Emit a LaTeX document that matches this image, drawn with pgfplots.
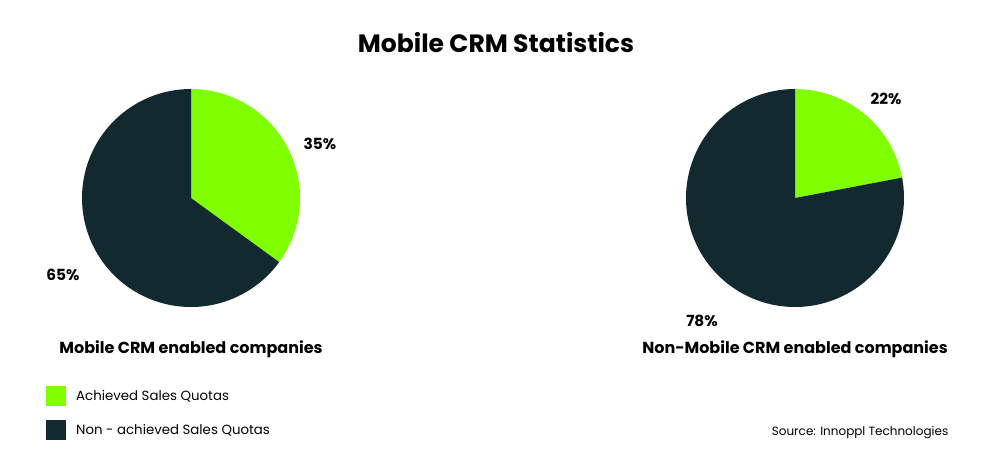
\documentclass[border=0pt]{standalone}
\usepackage{pgfplots}
\pgfplotsset{compat=1.18}
\usepackage{pgfplotstable}
\usepackage{fontspec}
\setmainfont{Poppins}
\definecolor{achgreen}{HTML}{7FFF00}
\definecolor{darkteal}{HTML}{12292F}
% pie data: share of achieved quota (percent)
\def\leftA{35}  \def\leftB{65}
\def\rightA{22} \def\rightB{78}
\begin{document}
\begin{tikzpicture}
\useasboundingbox (0,0) rectangle (744.75pt,343.5pt);
\begin{axis}[
  at={(0,0)}, anchor=south west,
  scale only axis, width=744.75pt, height=343.5pt,
  xmin=0, xmax=993, ymin=0, ymax=458, y dir=reverse,
  hide axis, clip=false,
]
% left pie, centre (191,198) r 109
\pgfmathsetmacro{\la}{90-3.6*\leftA}
\addplot[draw=none, fill=achgreen, domain=\la:90, samples=120]
  ({191+109*cos(x)},{198-109*sin(x)}) -- (axis cs:191,198) -- cycle;
\addplot[draw=none, fill=darkteal, domain={\la-3.6*\leftB}:\la, samples=200]
  ({191+109*cos(x)},{198-109*sin(x)}) -- (axis cs:191,198) -- cycle;
% right pie, centre (795,198) r 109
\pgfmathsetmacro{\ra}{90-3.6*\rightA}
\addplot[draw=none, fill=achgreen, domain=\ra:90, samples=120]
  ({795+109*cos(x)},{198-109*sin(x)}) -- (axis cs:795,198) -- cycle;
\addplot[draw=none, fill=darkteal, domain={\ra-3.6*\rightB}:\ra, samples=200]
  ({795+109*cos(x)},{198-109*sin(x)}) -- (axis cs:795,198) -- cycle;
% texts
\node[font=\fontsize{18.8}{21}\selectfont\bfseries] at (axis cs:496,43) {Mobile CRM Statistics};
\node[font=\fontsize{11.5}{13}\selectfont\bfseries] at (axis cs:320,144) {35\%};
\node[font=\fontsize{11.5}{13}\selectfont\bfseries] at (axis cs:63,275) {65\%};
\node[font=\fontsize{11.5}{13}\selectfont\bfseries] at (axis cs:886,99) {22\%};
\node[font=\fontsize{11.5}{13}\selectfont\bfseries] at (axis cs:702,321) {78\%};
\node[font=\fontsize{12}{14}\selectfont\bfseries] at (axis cs:191,349) {Mobile CRM enabled companies};
\node[font=\fontsize{12}{14}\selectfont\bfseries] at (axis cs:795,349) {Non-Mobile CRM enabled companies};
% legend
\addplot[draw=none, fill=achgreen] coordinates {(46,386) (66,386) (66,406) (46,406)} -- cycle;
\addplot[draw=none, fill=darkteal] coordinates {(46,420) (66,420) (66,440) (46,440)} -- cycle;
\node[anchor=west, font=\fontsize{10}{12}\selectfont] at (axis cs:71.5,396) {Achieved Sales Quotas};
\node[anchor=west, font=\fontsize{10}{12}\selectfont] at (axis cs:71.5,430) {Non - achieved Sales Quotas};
\node[anchor=east, font=\fontsize{9}{11}\selectfont] at (axis cs:953,433) {Source: Innoppl Technologies};
\end{axis}
\end{tikzpicture}
\end{document}
